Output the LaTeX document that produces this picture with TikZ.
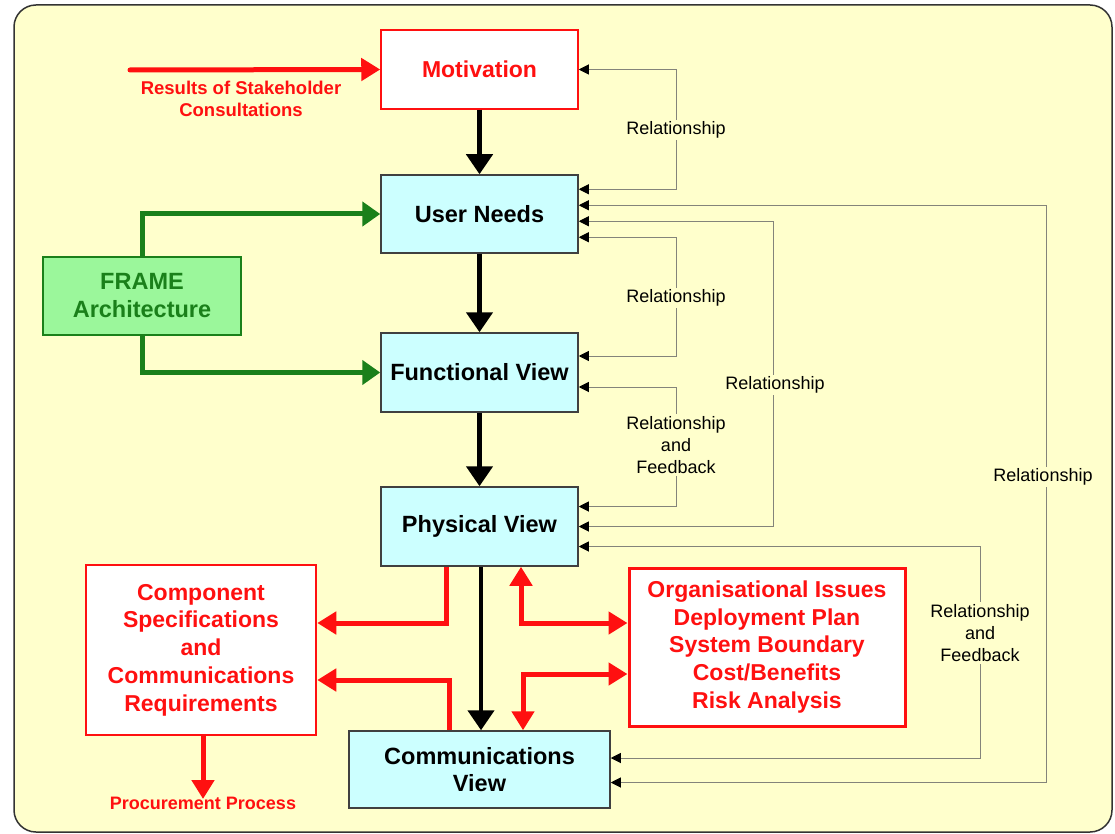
\documentclass[tikz,border=0pt]{standalone}
\usepackage{fontspec}
\setmainfont{Liberation Sans}
\usetikzlibrary{arrows.meta}
\definecolor{bgyellow}{HTML}{FFFFCC}
\definecolor{viewcyan}{HTML}{CCFFFF}
\definecolor{framegreen}{HTML}{9BF79B}
\definecolor{darkgreen}{HTML}{1A801A}
\definecolor{relgray}{HTML}{84847A}
\definecolor{boxred}{HTML}{FF1010}

\begin{document}
\begin{tikzpicture}[x=1pt,y=-1pt,
    view/.style={draw=black!75,line width=1.5pt,fill=viewcyan,minimum width=197pt,minimum height=78pt,inner sep=0pt,align=center,font=\fontsize{23.5}{27.5}\selectfont\bfseries},
    redbox/.style={draw=boxred,line width=2.5pt,fill=white,inner sep=0pt,align=center,text=boxred,font=\fontsize{23}{27.7}\selectfont\bfseries},
    greenbox/.style={draw=darkgreen,line width=2.5pt,fill=framegreen,inner sep=0pt,align=center,text=darkgreen,font=\fontsize{23.5}{28}\selectfont\bfseries},
    blackarrow/.style={-{Triangle[length=20pt,width=26pt]},line width=4.5pt},
    redarrow/.style={boxred,-{Triangle[length=19pt,width=22pt]},line width=5pt},
    redboth/.style={boxred,{Triangle[length=19pt,width=22pt]}-{Triangle[length=19pt,width=22pt]},line width=5pt},
    greenarrow/.style={darkgreen,-{Triangle[length=18pt,width=24pt]},line width=5pt},
    rel/.style={relgray,line width=1pt,{Triangle[length=10pt,width=10pt,color=black]}-{Triangle[length=10pt,width=10pt,color=black]}},
    rellabel/.style={fill=bgyellow,inner sep=2pt,align=center,font=\fontsize{18}{22}\selectfont},
    redlabel/.style={inner sep=0pt,align=center,text=boxred,font=\fontsize{18.5}{22}\selectfont\bfseries}]

    \useasboundingbox (0,0) rectangle (1115,834);
    \draw[rounded corners=22pt,fill=bgyellow,draw=black!80,line width=1.5pt](14,5) rectangle (1112,832);

    \node[redbox,line width=1.5pt,minimum width=197pt,minimum height=79pt](mot) at (479.5,69.5){Motivation};
    \node[view](un) at (479.5,214){User Needs};
    \node[view,minimum height=79pt](fv) at (479.5,372.5){Functional View};
    \node[view,minimum height=79pt](pv) at (479.5,526.5){Physical View};
    \node[view,minimum width=261pt,minimum height=77pt](cv) at (479.5,769.5){Communications\\View};
    \node[greenbox,minimum width=198pt,minimum height=78pt](frame) at (142,296){FRAME\\Architecture};
    \node[redbox,minimum width=230pt,minimum height=170pt](comp) at (201,650){Component\\Specifications\\and\\Communications\\Requirements};
    \node[redbox,line width=3pt,minimum width=276pt,minimum height=158pt](org) at (767,647){Organisational Issues\\Deployment Plan\\System Boundary\\Cost/Benefits\\Risk Analysis};

    \coordinate (src) at (130,70);
    \node[redlabel](res) at (241,99){Results of Stakeholder\\Consultations};
    \node[redlabel,font=\fontsize{18}{22}\selectfont\bfseries,anchor=north](proc) at (203,797){Procurement Process};

    \draw[redarrow,line cap=round](src)--(mot.west);
    \draw[blackarrow](mot.south)--(un.north);
    \draw[blackarrow](un.south)--(fv.north);
    \draw[blackarrow](fv.south)--(pv.north);
    \draw[blackarrow]([xshift=1.5pt]pv.south)--([xshift=1.5pt]cv.north);

    \draw[greenarrow](frame.north)|-(un.west);
    \draw[greenarrow](frame.south)|-(fv.west);

    \draw[redarrow]([xshift=-33.5pt]pv.south)|-([yshift=27pt]comp.east);
    \draw[redarrow]([xshift=-30.5pt]cv.north)|-([yshift=-30pt]comp.east);
    \draw[redboth]([xshift=41.5pt]pv.south)|-([yshift=24pt]org.west);
    \draw[redboth]([xshift=43.5pt]cv.north)|-([yshift=-27pt]org.west);
    \draw[redarrow]([xshift=2pt]comp.south)--([yshift=-2pt]proc.north);

    \draw[rel]([yshift=-15pt]un.north east)--++(98,0)|-(mot.east);
    \draw[rel]([yshift=-31pt]un.north east)--++(468,0)|-([yshift=-13pt]cv.east);
    \draw[rel]([yshift=-47pt]un.north east)--++(195,0)|-(pv.east);
    \draw[rel]([yshift=-63pt]un.north east)--++(98,0)|-([yshift=16.5pt]fv.east);
    \draw[rel]([yshift=-14.5pt]fv.east)--++(98,0)|-([yshift=20pt]pv.east);
    \draw[rel]([yshift=-20pt]pv.east)--++(402,0)|-([yshift=11.5pt]cv.east);

    \node[rellabel](r1) at (676,130){Relationship};
    \node[rellabel](r2) at (676,298){Relationship};
    \node[rellabel](r3) at (775,385){Relationship};
    \node[rellabel](r4) at (1043,477){Relationship};
    \node[rellabel](rf1) at (676,445){Relationship\\and\\Feedback};
    \node[rellabel](rf2) at (980,633){Relationship\\and\\Feedback};
\end{tikzpicture}
\end{document}
